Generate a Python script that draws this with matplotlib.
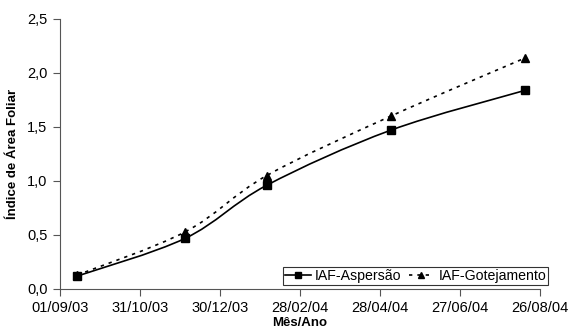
import numpy as np
import matplotlib
matplotlib.use('Agg')
import matplotlib.pyplot as plt
import matplotlib.dates as mdates
from matplotlib.path import Path
from matplotlib.patches import PathPatch
from datetime import datetime

plt.rcParams['font.family'] = ['Liberation Sans', 'DejaVu Sans']

# sampling dates and leaf area index values
dates = ['14/09/03', '04/12/03', '03/02/04', '06/05/04', '15/08/04']
iaf_aspersao = [0.12, 0.47, 0.96, 1.47, 1.84]
iaf_gotejamento = [0.13, 0.53, 1.05, 1.60, 2.14]

tick_labels = ['01/09/03', '31/10/03', '30/12/03', '28/02/04',
               '28/04/04', '27/06/04', '26/08/04']
y_ticks = [0.0, 0.5, 1.0, 1.5, 2.0, 2.5]


def to_num(labels):
    return np.array([mdates.date2num(datetime.strptime(s, '%d/%m/%y')) for s in labels])


def smooth_path(x, y):
    # excel-like smoothed line: catmull-rom as cubic bezier segments
    pts = np.column_stack([x, y])
    verts = [pts[0]]
    codes = [Path.MOVETO]
    n = len(pts)
    for i in range(n - 1):
        p0 = pts[i - 1] if i > 0 else pts[i]
        p1 = pts[i]
        p2 = pts[i + 1]
        p3 = pts[i + 2] if i + 2 < n else pts[i + 1]
        c1 = p1 + (p2 - p0) / 6
        c2 = p2 - (p3 - p1) / 6
        verts += [c1, c2, p2]
        codes += [Path.CURVE4] * 3
    return Path(verts, codes)


x = to_num(dates)
xt = to_num(tick_labels)

fig = plt.figure(figsize=(5.7, 3.33), dpi=100)
ax = fig.add_axes([60 / 570, 1 - 289 / 333, 480 / 570, 270 / 333])

ax.add_patch(PathPatch(smooth_path(x, iaf_aspersao), fill=False, color='black', lw=1.2))
ax.add_patch(PathPatch(smooth_path(x, iaf_gotejamento), fill=False, color='black', lw=1.2,
                       linestyle=(0, (2, 3))))
ax.plot(x, iaf_aspersao, 's', color='black', ms=5.5)
ax.plot(x, iaf_gotejamento, '^', color='black', ms=5.5)

# legend proxies
h1, = ax.plot([], [], '-s', color='black', ms=4.5, lw=1.2, label='IAF-Aspersão')
h2, = ax.plot([], [], '^', color='black', ms=4.5, lw=1.2, ls=(0, (2, 3)), label='IAF-Gotejamento')

ax.set_xlim(xt[0], xt[-1])
ax.set_ylim(0, 2.5)
ax.set_xticks(xt)
ax.set_xticklabels(tick_labels)
ax.set_yticks(y_ticks)
ax.set_yticklabels([f'{v:.1f}'.replace('.', ',') for v in y_ticks])
ax.tick_params(labelsize=10.5, length=5, width=0.8, color='#555555', pad=4)

for s in ['top', 'right']:
    ax.spines[s].set_visible(False)
for s in ['left', 'bottom']:
    ax.spines[s].set_color('#555555')
    ax.spines[s].set_linewidth(0.8)

ax.set_xlabel('Mês/Ano', fontsize=9.5, fontweight='bold', labelpad=1)
ax.set_ylabel('Índice de Área Foliar', fontsize=9.5, fontweight='bold', labelpad=6)

leg = ax.legend(handles=[h1, h2], ncol=2, loc='lower right', bbox_to_anchor=(1.017, 0.015),
                fontsize=10.2, frameon=True, fancybox=False, borderpad=0.15,
                handlelength=1.8, handletextpad=0.3, columnspacing=0.5, borderaxespad=0)
leg.get_frame().set_edgecolor('black')
leg.get_frame().set_linewidth(0.8)

fig.savefig('out.png', dpi=100)
